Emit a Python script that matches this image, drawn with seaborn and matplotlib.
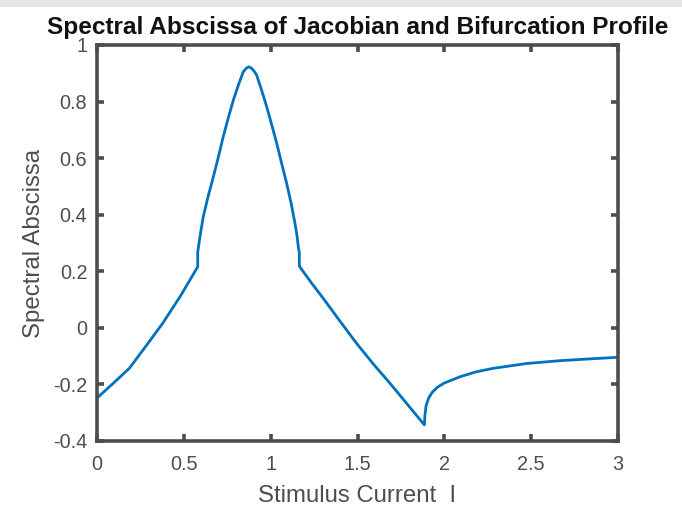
import matplotlib
matplotlib.use("Agg")
import matplotlib.pyplot as plt
import seaborn as sns
import pandas as pd
from matplotlib.patches import Rectangle

# Data
current = [0.0, 0.09, 0.186, 0.28, 0.378, 0.48, 0.580,
           0.580, 0.590, 0.600, 0.612, 0.640, 0.670, 0.700, 0.727, 0.755, 0.785, 0.815,
           0.842, 0.860, 0.875, 0.890, 0.905, 0.919, 0.948, 0.977, 1.006, 1.035, 1.063,
           1.092, 1.118, 1.140, 1.152, 1.159, 1.165,
           1.165, 1.230, 1.303, 1.400, 1.495, 1.590, 1.687, 1.780, 1.885,
           1.888, 1.895, 1.910, 1.930, 1.960, 2.000, 2.090, 2.180, 2.282, 2.474,
           2.666, 2.830, 3.0]
spectral = [-0.248, -0.198, -0.143, -0.066, 0.016, 0.112, 0.216,
            0.268, 0.310, 0.350, 0.393, 0.465, 0.534, 0.607, 0.676, 0.740, 0.805, 0.860,
            0.905, 0.918, 0.923, 0.918, 0.907, 0.894, 0.840, 0.782, 0.718, 0.652, 0.582,
            0.511, 0.440, 0.369, 0.325, 0.287, 0.265,
            0.218, 0.163, 0.104, 0.023, -0.055, -0.127, -0.196, -0.265, -0.343,
            -0.310, -0.275, -0.248, -0.228, -0.210, -0.195, -0.173, -0.156, -0.143, -0.126,
            -0.116, -0.110, -0.104]
xticks = [0, 0.5, 1, 1.5, 2, 2.5, 3]
yticks = [-0.4, -0.2, 0, 0.2, 0.4, 0.6, 0.8, 1]

df = pd.DataFrame({"I": current, "SA": spectral})

sns.set_theme(style="white")
plt.rcParams['font.family'] = ['Liberation Sans', 'DejaVu Sans']

fig = plt.figure(figsize=(6.82, 5.07), dpi=100)
fig.patches.append(Rectangle((0, 1 - 7 / 507), 1, 7 / 507, transform=fig.transFigure,
                             facecolor="#e6e6e6", edgecolor="none", zorder=0))
ax = fig.add_axes([97 / 682, 1 - 441 / 507, (618 - 97) / 682, (441 - 45) / 507])

sns.lineplot(data=df, x="I", y="SA", sort=False, estimator=None, color="#0072BD",
             linewidth=2.0, ax=ax)

ax.set_xlim(0, 3)
ax.set_ylim(-0.4, 1)
ax.set_xticks(xticks)
ax.set_xticklabels([f"{t:g}" for t in xticks])
ax.set_yticks(yticks)
ax.set_yticklabels([f"{t:g}" for t in yticks])

gray = "#4d4d4d"
for s in ax.spines.values():
    s.set_visible(True)
    s.set_color(gray)
    s.set_linewidth(2.6)
ax.tick_params(direction="in", length=5, width=2.6, color=gray, labelcolor=gray,
               labelsize=14.3, top=True, right=True, bottom=True, left=True, pad=7)
ax.tick_params(axis="x", pad=10)

ax.set_xlabel("Stimulus Current  I", fontsize=17.3, color=gray, labelpad=8)
ax.set_ylabel("Spectral Abscissa", fontsize=17.3, color=gray, labelpad=6)
ax.set_title("Spectral Abscissa of Jacobian and Bifurcation Profile", fontsize=17.6,
             fontweight="bold", color="#111111", pad=8)

fig.savefig("out.png", dpi=100)
